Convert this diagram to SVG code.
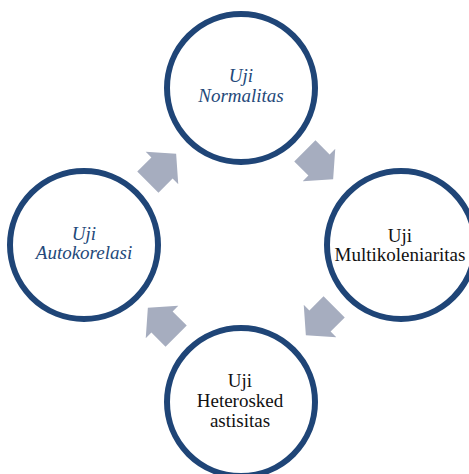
<svg xmlns="http://www.w3.org/2000/svg" width="469" height="474" viewBox="0 0 469 474">
<style>
.c{fill:#ffffff;stroke:#1f4577;stroke-width:6}
.a{fill:#a6adbf}
.t{font-family:"Liberation Serif","Times New Roman",serif;font-size:19px;text-anchor:middle}
.i{font-style:italic;fill:#24497a}
.n{fill:#111111}
</style>
<defs>
<polygon id="arr" points="-20,-15 0,-15 0,-23 20,0 0,23 0,15 -20,15"/>
</defs>
<rect width="469" height="474" fill="#ffffff"/>
<g id="connectors">
<use href="#arr" class="a" transform="translate(162,168) rotate(-45)"/>
<use href="#arr" class="a" transform="translate(319,165) rotate(45)"/>
<use href="#arr" class="a" transform="translate(320,321) rotate(135)"/>
<use href="#arr" class="a" transform="translate(162,322) rotate(-135)"/>
</g>
<g id="normalitas">
<circle class="c" cx="241" cy="88" r="74"/>
<text class="t i" x="241" y="82">Uji</text>
<text class="t i" x="241" y="102">Normalitas</text>
</g>
<g id="multikoleniaritas">
<circle class="c" cx="401" cy="245" r="74"/>
<text class="t n" x="400" y="242">Uji</text>
<text class="t n" x="400" y="261">Multikoleniaritas</text>
</g>
<g id="heteroskedastisitas">
<circle class="c" cx="241" cy="402" r="74"/>
<text class="t n" x="240" y="387">Uji</text>
<text class="t n" x="240" y="407">Heterosked</text>
<text class="t n" x="240" y="427">astisitas</text>
</g>
<g id="autokorelasi">
<circle class="c" cx="84" cy="245" r="74"/>
<text class="t i" x="84" y="240">Uji</text>
<text class="t i" x="84" y="259">Autokorelasi</text>
</g>
</svg>
